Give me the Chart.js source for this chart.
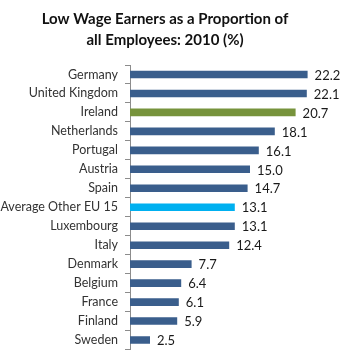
<!DOCTYPE html>
<html>
<head>
<meta charset="utf-8">
<script src="https://cdn.jsdelivr.net/npm/chart.js@4/dist/chart.umd.min.js"></script>
<style>
  html, body { margin: 0; padding: 0; background: #fff; }
  #wrap { position: relative; width: 343px; height: 364px; }
</style>
</head>
<body>
<div id="wrap"><canvas id="chart" width="343" height="364"></canvas></div>
<script>
// Low wage earners, share of all employees, 2010 (%)
const countries = [
  'Germany', 'United Kingdom', 'Ireland', 'Netherlands', 'Portugal', 'Austria',
  'Spain', 'Average Other EU 15', 'Luxembourg', 'Italy', 'Denmark', 'Belgium',
  'France', 'Finland', 'Sweden',
];
const shares = [22.2, 22.1, 20.7, 18.1, 16.1, 15.0, 14.7, 13.1, 13.1, 12.4, 7.7, 6.4, 6.1, 5.9, 2.5];

const titleLines = ['Low Wage Earners as a Proportion of', 'all Employees: 2010 (%)'];

// Ireland and the EU-15 average get their own colours
const BLUE  = '#3A5E8C';
const GREEN = '#77933C';
const CYAN  = '#00B0F0';
const barColors = countries.map((c) =>
  c === 'Ireland' ? GREEN : c === 'Average Other EU 15' ? CYAN : BLUE);

const FONT = 'Lato, "Noto Sans", sans-serif';

// value printed to the right of each bar
const valueLabels = {
  id: 'valueLabels',
  afterDatasetsDraw(chart) {
    const { ctx } = chart;
    const meta = chart.getDatasetMeta(0);
    ctx.save();
    ctx.font = '13px ' + FONT;
    ctx.fillStyle = '#1a1a1a';
    ctx.textAlign = 'left';
    ctx.textBaseline = 'middle';
    meta.data.forEach((bar, i) => {
      ctx.fillText(shares[i].toFixed(1), bar.x + 7, bar.y + 1);
    });
    ctx.restore();
  },
};

new Chart(document.getElementById('chart'), {
  type: 'bar',
  data: {
    labels: countries,
    datasets: [{
      data: shares,
      backgroundColor: barColors,
      borderWidth: 0,
      barPercentage: 0.4,
      categoryPercentage: 1,
    }],
  },
  options: {
    indexAxis: 'y',
    responsive: false,
    animation: false,
    layout: { padding: { top: 4, right: 13, bottom: 7, left: 0 } },
    plugins: {
      legend: { display: false },
      tooltip: { enabled: false },
      title: {
        display: true,
        text: titleLines,
        color: '#111',
        font: { family: FONT, size: 15, weight: 'bold', lineHeight: 1.45 },
        padding: { top: 4, bottom: 13.5 },
      },
    },
    scales: {
      x: {
        display: false,
        min: 0,
        max: 25,
      },
      y: {
        afterFit: (scale) => { scale.width = 130; },
        border: { display: true, color: '#8c8c8c', width: 1 },
        grid: { drawOnChartArea: false, tickLength: 5, color: '#8c8c8c' },
        ticks: {
          color: '#333',
          padding: 7,
          font: { family: FONT, size: 12.5 },
        },
      },
    },
  },
  plugins: [valueLabels],
});
</script>
</body>
</html>
